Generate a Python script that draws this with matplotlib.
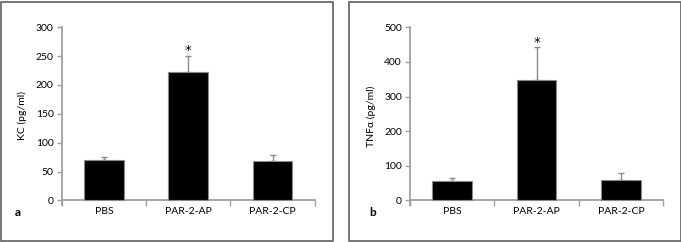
import matplotlib
matplotlib.use('Agg')
import matplotlib.pyplot as plt
from matplotlib.patches import Rectangle
import numpy as np

plt.rcParams['font.family'] = ['Lato', 'DejaVu Sans']

categories = ['PBS', 'PAR-2-AP', 'PAR-2-CP']
kc = [70, 222, 69]
kc_err = [5, 29, 10]
tnf = [56, 348, 58]
tnf_err = [9, 95, 21]
kc_ticks = [0, 50, 100, 150, 200, 250, 300]
tnf_ticks = [0, 100, 200, 300, 400, 500]

W, H = 681, 242
fig = plt.figure(figsize=(W / 100, H / 100), dpi=100)

axis_col = '#a0a0a0'


def panel(left_px, vals, errs, ticks, ylabel, letter, letter_x):
    ymax = ticks[-1]
    ax = fig.add_axes([left_px / W, (H - 204.7) / H, 253 / W, 177.4 / H])
    x = np.arange(len(vals))
    ax.bar(x, vals, width=0.47, color='black', edgecolor='#8a8a8a', linewidth=0.8, zorder=3)
    ax.errorbar(x, vals, yerr=[np.zeros(len(vals)), errs], fmt='none',
                ecolor='#8a8a8a', elinewidth=1, capsize=2.5, capthick=1, zorder=2)
    # asterisk over the biggest bar
    i = int(np.argmax(vals))
    ax.annotate('*', (x[i], vals[i] + errs[i]), xytext=(0, 3.5), textcoords='offset points',
                ha='center', va='center', fontsize=9.5, family='DejaVu Sans')
    ax.set_xlim(-0.5, len(vals) - 0.5)
    ax.set_ylim(-ymax * 0.025, ymax)
    for s in ['top', 'right']:
        ax.spines[s].set_visible(False)
    ax.spines['bottom'].set_position(('data', 0))
    for s in ['left', 'bottom']:
        ax.spines[s].set_color(axis_col)
        ax.spines[s].set_linewidth(1.3)
    ax.set_yticks(ticks)
    ax.set_xticks([-0.5, 0.5, 1.5, 2.5])
    ax.set_xticklabels([])
    ax.set_xticks(x, minor=True)
    ax.set_xticklabels(categories, minor=True)
    ax.tick_params(axis='x', which='major', direction='out', length=4.5, width=1, color=axis_col)
    ax.tick_params(axis='x', which='minor', length=0, pad=5, labelsize=7.5)
    ax.tick_params(axis='y', direction='out', length=3.8, width=1, color=axis_col,
                   labelsize=7.5, pad=2)
    ax.set_ylabel(ylabel, fontsize=7.5, labelpad=6)
    fig.text(letter_x / W, (H - 213) / H, letter, fontsize=8.5, fontweight='bold',
             ha='center', va='center')
    return ax


panel(61.7, kc, kc_err, kc_ticks, 'KC (pg/ml)', 'a', 18)
panel(410.0, tnf, tnf_err, tnf_ticks, 'TNF\u03b1 (pg/ml)', 'b', 373)

# frames around the two panels
for x0, x1 in [(0.5, 332.5), (348.5, 680.5)]:
    fig.patches.append(Rectangle((x0 / W, 1.5 / H), (x1 - x0) / W, (240 - 1) / H,
                                 transform=fig.transFigure, fill=False,
                                 edgecolor='#606060', linewidth=1.2))

fig.savefig('out.png', dpi=100)
